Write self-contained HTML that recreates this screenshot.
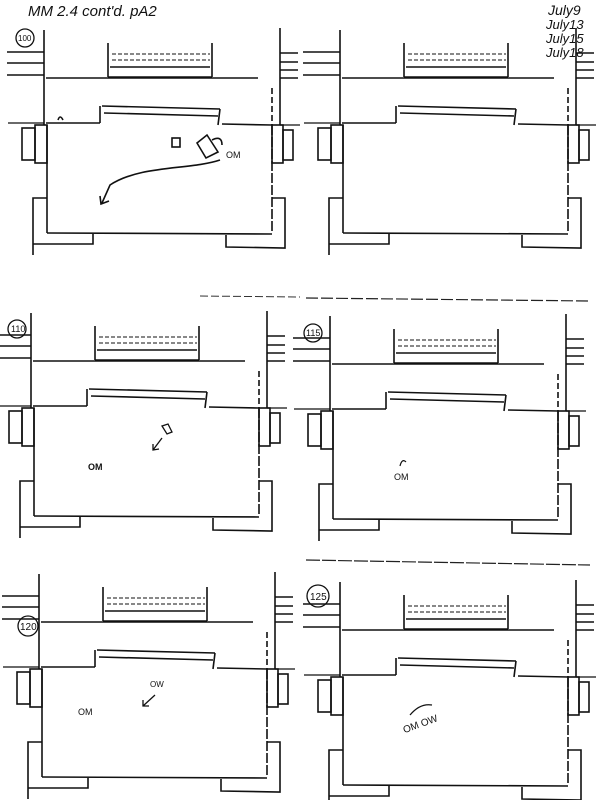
<!DOCTYPE html>
<html><head><meta charset="utf-8"><style>
html,body{margin:0;padding:0;background:#fff;}
svg{display:block;}
text{font-family:"Liberation Sans",sans-serif;fill:#111;}
</style></head><body>
<svg width="612" height="800" viewBox="0 0 612 800" xmlns="http://www.w3.org/2000/svg">
<defs>
<g id="p" fill="none" stroke="#111" stroke-width="1.6">
  <line x1="44" y1="30" x2="44" y2="125"/>
  <line x1="7" y1="52" x2="44" y2="52"/>
  <line x1="7" y1="63" x2="44" y2="63"/>
  <line x1="7" y1="75" x2="44" y2="75"/>
  <line x1="108" y1="43" x2="108" y2="77"/>
  <line x1="212" y1="43" x2="212" y2="77"/>
  <line x1="112" y1="54" x2="210" y2="54" stroke-dasharray="4 2" stroke-width="1"/>
  <line x1="112" y1="60" x2="210" y2="60" stroke-dasharray="4 2" stroke-width="1"/>
  <line x1="110" y1="67" x2="210" y2="67"/>
  <line x1="108" y1="77" x2="212" y2="77"/>
  <line x1="46" y1="78" x2="258" y2="78"/>
  <line x1="280" y1="28" x2="280" y2="125"/>
  <line x1="280" y1="53" x2="298" y2="53"/>
  <line x1="280" y1="62" x2="298" y2="62"/>
  <line x1="280" y1="70" x2="298" y2="70"/>
  <line x1="280" y1="78" x2="298" y2="78"/>
  <line x1="272" y1="88" x2="272" y2="125" stroke-dasharray="6 3"/>
  <line x1="8" y1="123" x2="44" y2="123" stroke-width="1.2"/>
  <line x1="46" y1="123" x2="100" y2="123"/>
  <line x1="100" y1="106" x2="100" y2="123"/>
  <line x1="102" y1="106" x2="220" y2="109"/>
  <line x1="104" y1="113" x2="218" y2="116"/>
  <line x1="220" y1="109" x2="218" y2="125"/>
  <line x1="222" y1="124" x2="272" y2="125"/>
  <line x1="280" y1="125" x2="300" y2="125" stroke-width="1.2"/>
  <line x1="47" y1="125" x2="47" y2="233"/>
  <line x1="272" y1="125" x2="272" y2="233" stroke-dasharray="10 2"/>
  <line x1="47" y1="233" x2="272" y2="234"/>
  <rect x="22" y="128" width="13" height="32"/>
  <rect x="35" y="125" width="12" height="38"/>
  <rect x="272" y="125" width="11" height="38"/>
  <rect x="283" y="130" width="10" height="30"/>
  <polyline points="47,198 33,198 33,255"/>
  <polyline points="33,244 93,244 93,234"/>
  <polyline points="272,198 285,198 285,248 226,247 226,235"/>
</g>
</defs>
<use href="#p" transform="translate(0,0)"/>
<use href="#p" transform="translate(296,0)"/>
<use href="#p" transform="translate(-13,283)"/>
<use href="#p" transform="translate(286,286)"/>
<use href="#p" transform="translate(-5,544)"/>
<use href="#p" transform="translate(296,552)"/>

<text x="28" y="16" font-size="15" font-style="italic">MM 2.4 cont'd. pA2</text>
<text x="548" y="15" font-size="14" font-style="italic">July9</text>
<text x="546" y="29" font-size="13" font-style="italic">July13</text>
<text x="546" y="43" font-size="13" font-style="italic">July15</text>
<text x="546" y="57" font-size="13" font-style="italic">July18</text>

<g fill="none" stroke="#111" stroke-width="1.3">
<circle cx="25" cy="38" r="9"/>
<circle cx="17" cy="329" r="9"/>
<circle cx="313" cy="333" r="9"/>
<circle cx="28" cy="626" r="10"/>
<circle cx="318" cy="596" r="11"/>
</g>
<text x="18" y="41" font-size="8">100</text>
<text x="11" y="332" font-size="9">110</text>
<text x="306" y="336" font-size="9">115</text>
<text x="20" y="630" font-size="10">120</text>
<text x="310" y="600" font-size="10">125</text>

<g fill="none" stroke="#111" stroke-width="1.6">
<path d="M58 120 q2 -6 5 0"/>
<rect x="172" y="138" width="8" height="9"/>
<path d="M197 143 l10 -8 l11 17 l-12 6 z"/>
<path d="M212 140 q10 -5 10 5"/>
<path d="M220 160 C190 170 140 165 110 185 L102 203"/>
<path d="M100 196 l1 8 l8 -3"/>
</g>
<text x="226" y="158" font-size="9">OM</text>
<g fill="none" stroke="#111" stroke-width="1.3">
<path d="M162 426 l6 -2 l4 8 l-5 2 z"/>
<path d="M162 438 L153 450 M153 444 l0 6 l6 -1"/>
</g>
<text x="88" y="470" font-size="9" font-weight="bold">OM</text>
<path d="M400 466 q2 -8 6 -4" fill="none" stroke="#111" stroke-width="1.2"/>
<text x="394" y="480" font-size="9">OM</text>
<text x="78" y="715" font-size="9">OM</text>
<text x="150" y="687" font-size="8">OW</text>
<path d="M155 695 L143 706 M143 700 l0 6 l6 0" fill="none" stroke="#111" stroke-width="1.3"/>
<path d="M410 715 q10 -12 22 -10" fill="none" stroke="#111" stroke-width="1.3"/>
<text x="403" y="731" font-size="10" transform="rotate(-20 410 728)">OM OW</text>

<line x1="200" y1="296" x2="300" y2="297" stroke="#333" stroke-width="1" stroke-dasharray="8 3"/>
<line x1="306" y1="298" x2="590" y2="301" stroke="#222" stroke-width="1.2" stroke-dasharray="12 3"/>
<line x1="306" y1="560" x2="590" y2="565" stroke="#222" stroke-width="1.2" stroke-dasharray="14 2"/>
</svg>
</body></html>
